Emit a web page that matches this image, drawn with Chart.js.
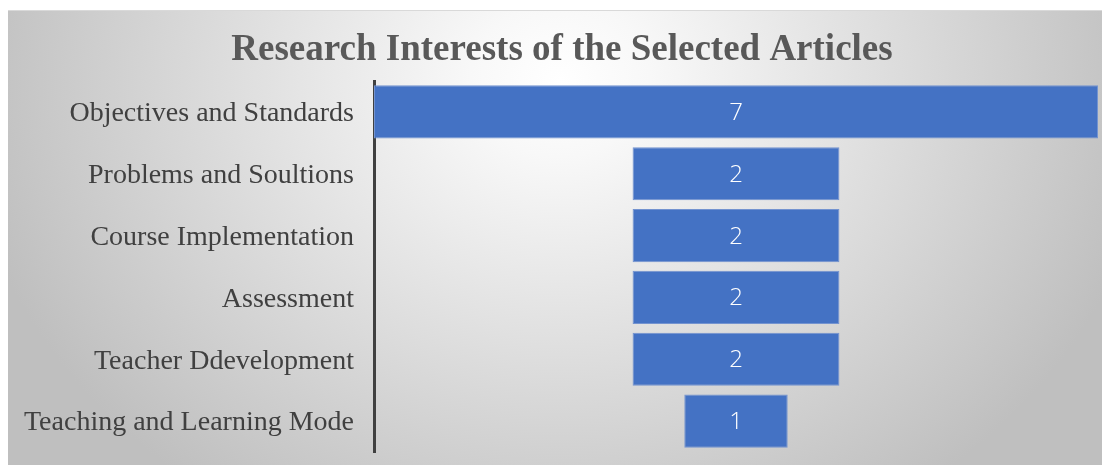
<!DOCTYPE html>
<html>
<head>
<meta charset="utf-8">
<script src="https://cdn.jsdelivr.net/npm/chart.js@4.4.1/dist/chart.umd.min.js"></script>
<style>
html,body{margin:0;padding:0;background:#ffffff;overflow:hidden;}
#wrap{position:relative;width:1102px;height:465px;}
canvas{display:block;}
</style>
</head>
<body>
<div id="wrap"><canvas id="c" width="1102" height="465"></canvas></div>
<script>
const titleText = "Research Interests of the Selected Articles";
const categories = ["Objectives and Standards","Problems and Soultions","Course Implementation","Assessment","Teacher Ddevelopment","Teaching and Learning Mode"];
const counts = [7, 2, 2, 2, 2, 1];

const bgPlugin = {
  id: 'bg',
  beforeDraw(chart) {
    const ctx = chart.ctx;
    ctx.save();
    ctx.fillStyle = '#ffffff';
    ctx.fillRect(0, 0, chart.width, chart.height);
    const x0 = 8, y0 = 10, x1 = chart.width, y1 = chart.height;
    ctx.beginPath();
    ctx.rect(x0, y0, x1 - x0, y1 - y0);
    ctx.clip();
    ctx.translate(560, 80);
    ctx.scale(1, 0.85);
    const g = ctx.createRadialGradient(0, 0, 0, 0, 0, 600);
    g.addColorStop(0, '#ffffff');
    g.addColorStop(0.15, '#f8f8f8');
    g.addColorStop(1, '#bfbfbf');
    ctx.fillStyle = g;
    ctx.fillRect(-700, -200, 1500, 800);
    ctx.restore();
    ctx.save();
    ctx.strokeStyle = '#d9d9d9';
    ctx.lineWidth = 1;
    ctx.beginPath();
    ctx.moveTo(x0, y0 + 0.5);
    ctx.lineTo(x1, y0 + 0.5);
    ctx.stroke();
    ctx.restore();
  },
  afterDraw(chart) {
    const ctx = chart.ctx;
    ctx.save();
    ctx.font = 'bold 37px "Liberation Serif", "Times New Roman", serif';
    ctx.fillStyle = '#595959';
    ctx.textAlign = 'center';
    ctx.textBaseline = 'alphabetic';
    ctx.fillText(titleText, 562, 60);
    // data labels
    const meta = chart.getDatasetMeta(0);
    ctx.font = '300 24px "Open Sans", "Noto Sans", sans-serif';
    ctx.fillStyle = '#ffffff';
    ctx.textBaseline = 'alphabetic';
    const xs = chart.scales.x;
    meta.data.forEach((bar, i) => {
      ctx.fillText(String(counts[i]), xs.getPixelForValue(0), bar.y + 8);
    });
    ctx.restore();
  }
};

new Chart(document.getElementById('c'), {
  type: 'bar',
  data: {
    labels: categories,
    datasets: [{
      data: counts.map(v => [-v / 2, v / 2]),
      backgroundColor: '#4472c4',
      borderColor: '#7393d0',
      borderWidth: 1,
      borderSkipped: false,
      categoryPercentage: 1,
      barPercentage: 0.86
    }]
  },
  options: {
    indexAxis: 'y',
    responsive: false,
    animation: false,
    devicePixelRatio: 1,
    layout: { padding: { left: 8, right: 4, top: 81, bottom: 13 } },
    plugins: {
      legend: { display: false },
      tooltip: { enabled: false },
      title: { display: false }
    },
    scales: {
      x: {
        display: false,
        min: -3.5,
        max: 3.5
      },
      y: {
        afterFit(scale) {
          scale.width = 366;
          scale.paddingTop = 0;
          scale.paddingBottom = 0;
        },
        grid: { display: false, drawTicks: false },
        border: { display: true, color: '#404040', width: 3 },
        ticks: {
          color: '#404040',
          padding: 20,
          labelOffset: 2,
          font: { family: '"Liberation Serif", "Times New Roman", serif', size: 28 }
        }
      }
    }
  },
  plugins: [bgPlugin]
});
</script>
</body>
</html>
